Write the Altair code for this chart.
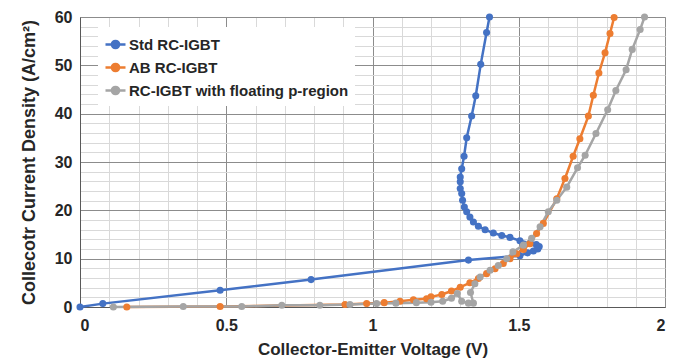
import altair as alt
import pandas as pd

series = ["Std RC-IGBT", "AB RC-IGBT", "RC-IGBT with floating p-region"]
colors = ["#4472C4", "#ED7D31", "#A5A5A5"]

std_x = [0.0, 0.078, 0.479, 0.79, 1.328, 1.504, 1.53, 1.55, 1.565, 1.57, 1.56, 1.54,
         1.504, 1.47, 1.442, 1.413, 1.385, 1.362, 1.345, 1.333, 1.322, 1.314, 1.308,
         1.305, 1.30, 1.30, 1.30, 1.305, 1.313, 1.322, 1.339, 1.353, 1.37, 1.39, 1.40]
std_y = [0.0, 0.7, 3.45, 5.67, 9.7, 10.6, 11.2, 11.6, 12.0, 12.5, 12.9, 13.2,
         13.7, 14.4, 14.8, 15.3, 16.0, 16.7, 17.6, 18.6, 19.7, 20.7, 22.1,
         23.5, 24.5, 25.9, 26.9, 28.6, 31.2, 35.0, 39.5, 43.7, 50.2, 56.8, 60.0]

ab_x = [0.16, 0.479, 0.906, 0.98, 1.04, 1.094, 1.14, 1.185, 1.20, 1.237, 1.27, 1.30,
        1.333, 1.362, 1.39, 1.419, 1.447, 1.47, 1.493, 1.516, 1.538, 1.561, 1.584,
        1.63, 1.658, 1.686, 1.709, 1.738, 1.755, 1.774, 1.795, 1.812, 1.826]
ab_y = [0.0, 0.1, 0.5, 0.7, 0.9, 1.2, 1.5, 1.7, 2.1, 2.6, 3.3, 4.1,
        5.0, 5.9, 6.9, 7.9, 9.0, 10.0, 11.0, 11.9, 13.1, 15.2, 17.3,
        22.4, 26.6, 31.2, 34.8, 39.5, 43.8, 48.4, 52.6, 56.6, 59.9]

fp_x = [0.114, 0.353, 0.553, 0.69, 0.82, 0.923, 1.014, 1.08, 1.15, 1.20, 1.24, 1.27,
        1.29, 1.305, 1.328, 1.345, 1.335, 1.35, 1.368, 1.402, 1.43, 1.459, 1.48, 1.516,
        1.544, 1.573, 1.601, 1.63, 1.664, 1.701, 1.727, 1.764, 1.804, 1.832, 1.867,
        1.888, 1.915, 1.93]
fp_y = [0.0, 0.1, 0.1, 0.35, 0.35, 0.5, 0.7, 0.8, 0.9, 1.0, 1.2, 1.8,
        2.8, 1.2, 0.8, 0.8, 3.0, 4.8, 6.2, 7.6, 8.6, 10.0, 11.4, 12.8,
        14.2, 16.6, 19.7, 22.1, 24.8, 28.8, 31.4, 35.9, 40.8, 44.8, 49.1,
        53.3, 57.4, 60.0]

rows = []
for name, xs, ys in zip(series, [std_x, ab_x, fp_x], [std_y, ab_y, fp_y]):
    for i, (x, y) in enumerate(zip(xs, ys)):
        rows.append({"series": name, "vce": x, "jc": y, "idx": i})
df = pd.DataFrame(rows)

x_ticks = [round(i * 0.1, 1) for i in range(21)]
y_ticks = list(range(0, 61, 2))

FONT = "Liberation Sans"
major_x = "abs(datum.value * 2 - round(datum.value * 2)) < 0.001"
major_y = "datum.value % 10 == 0"

x_enc = alt.X(
    "vce:Q",
    scale=alt.Scale(domain=[0, 2], nice=False, zero=False),
    axis=alt.Axis(
        title="Collector-Emitter Voltage (V)",
        titleFontSize=17,
        values=x_ticks,
        labelExpr=f"{major_x} ? format(datum.value, '~g') : ''",
        gridColor={"condition": {"test": major_x, "value": "#8c8c8c"}, "value": "#d9d9d9"},
        ticks=False,
        labelPadding=10,
        titlePadding=8,
        domainColor="#595959",
    ),
)
y_enc = alt.Y(
    "jc:Q",
    scale=alt.Scale(domain=[0, 60], nice=False),
    axis=alt.Axis(
        title="Collecotr Current Density (A/cm²)",
        titleFontSize=18,
        values=y_ticks,
        labelExpr=f"{major_y} ? format(datum.value, 'd') : ''",
        gridColor={"condition": {"test": major_y, "value": "#8c8c8c"}, "value": "#d9d9d9"},
        ticks=False,
        labelPadding=8,
        titlePadding=16,
        domainColor="#595959",
    ),
)
color_scale = alt.Scale(domain=series, range=colors)

sym = "M-1,0L1,0M-0.36,0A0.36,0.36,0,1,1,0.36,0A0.36,0.36,0,1,1,-0.36,0Z"
legend = alt.Legend(
    title=None, orient="none", legendX=18, legendY=10,
    symbolType=sym, symbolSize=400, symbolStrokeWidth=2.5,
    labelFont=FONT, labelFontSize=15, labelFontWeight="bold",
    labelColor="#262626", rowPadding=2, labelOffset=2,
    fillColor="white", padding=6, labelLimit=400,
)

lines = alt.Chart(df).mark_line(strokeWidth=2.5).encode(
    x=x_enc, y=y_enc,
    color=alt.Color("series:N", scale=color_scale, sort=series, legend=legend),
    order="idx:Q",
)

points = alt.Chart(df).mark_circle(size=50, opacity=1).encode(
    x=x_enc, y=y_enc,
    color=alt.Color("series:N", scale=color_scale, sort=series, legend=legend),
)

chart = (
    alt.layer(lines, points)
    .properties(
        width=585, height=290,
        autosize=alt.AutoSizeParams(type="none"),
        padding={"left": 72, "top": 9, "right": 7, "bottom": 52},
        background="white",
    )
    .configure_view(stroke="#bfbfbf", strokeWidth=1)
    .configure_axis(
        labelFont=FONT, labelFontSize=16, labelFontWeight="bold", labelColor="#262626",
        titleFont=FONT, titleFontWeight="bold", titleColor="#262626",
        gridWidth=1,
    )
)

chart.save("out.html", embed_options={"renderer": "svg", "actions": False})
